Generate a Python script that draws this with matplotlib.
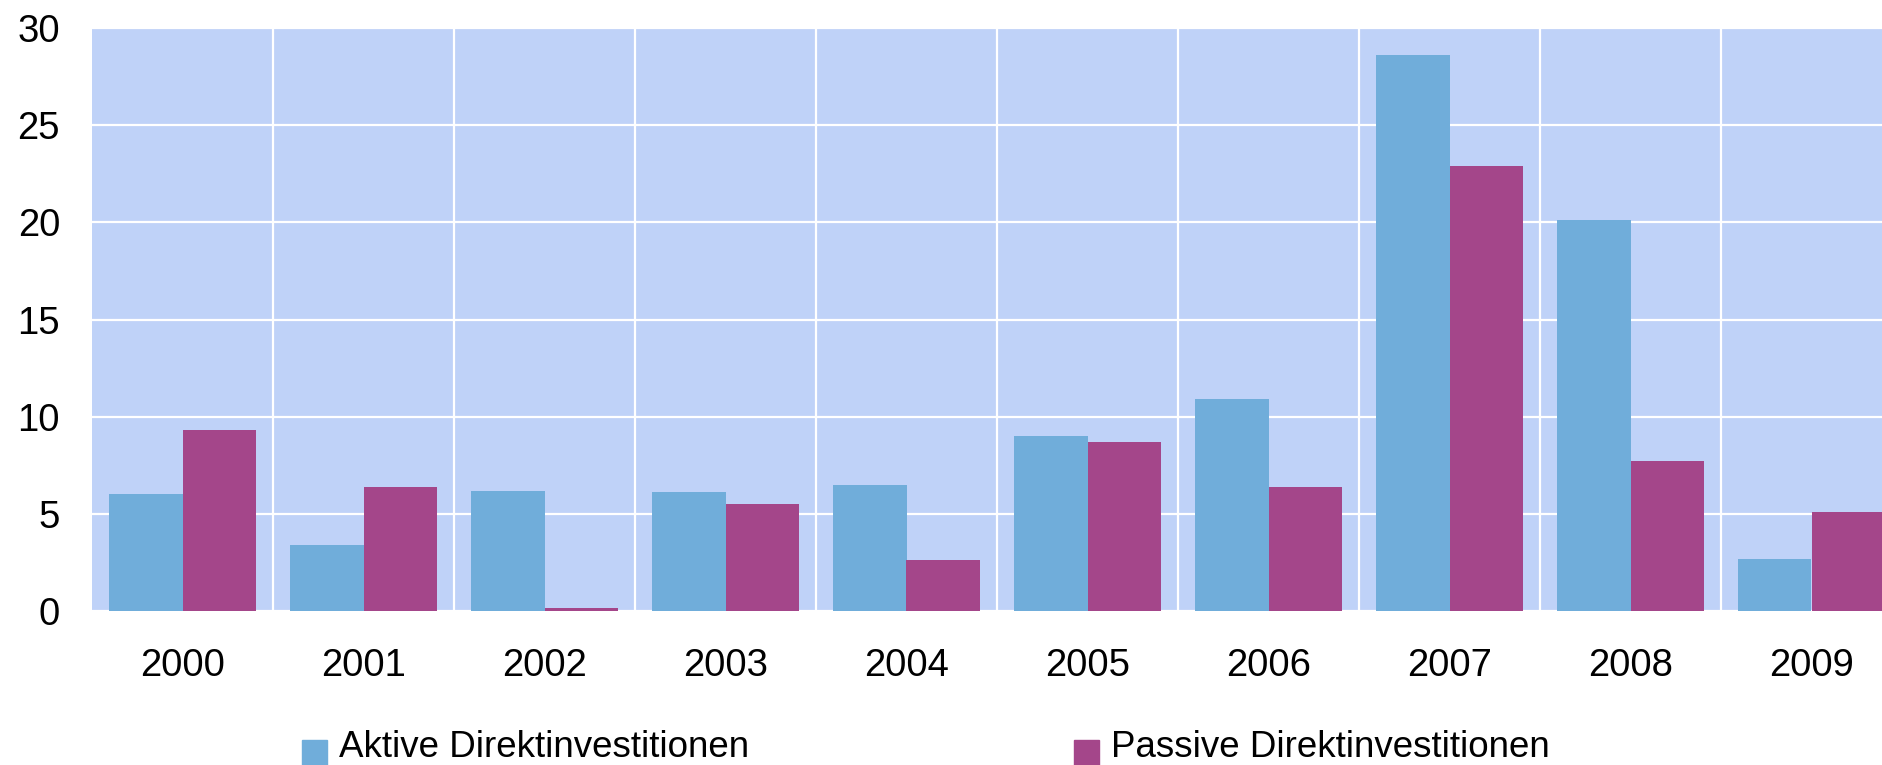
import numpy as np
import matplotlib
matplotlib.use("Agg")
import matplotlib.pyplot as plt
from matplotlib.patches import Rectangle

plt.rcParams['font.family'] = ['Liberation Sans', 'DejaVu Sans']

years = ["2000", "2001", "2002", "2003", "2004", "2005", "2006", "2007", "2008", "2009"]
aktive = [6.0, 3.4, 6.2, 6.1, 6.5, 9.0, 10.9, 28.6, 20.1, 2.7]
passive = [9.3, 6.4, 0.15, 5.5, 2.6, 8.7, 6.4, 22.9, 7.7, 5.1]
labels = ["Aktive Direktinvestitionen", "Passive Direktinvestitionen"]

c_akt = "#70adda"
c_pas = "#a4468a"
c_bg = "#bfd2f8"

W, H = 1883, 765
fig = plt.figure(figsize=(W / 100, H / 100), dpi=100)
# plot area runs past the right edge of the picture, like the original
ax = fig.add_axes([92 / W, 154 / H, 1810 / W, 583 / H])
ax.set_facecolor(c_bg)

x = np.arange(len(years))
bw = 0.405
ax.bar(x - bw / 2, aktive, bw, color=c_akt, zorder=3)
ax.bar(x + bw / 2, passive, bw, color=c_pas, zorder=3)

ax.set_xlim(-0.5, len(years) - 0.5)
ax.set_ylim(0, 30)
ax.set_yticks(np.arange(0, 31, 5))
ax.set_xticks(x)
ax.set_xticklabels(years)
ax.set_xticks(np.arange(0.5, len(years) - 0.5, 1), minor=True)

ax.grid(axis="y", which="major", color="white", lw=1.6, zorder=1)
ax.grid(axis="x", which="minor", color="white", lw=1.6, zorder=1)
ax.grid(axis="x", which="major", visible=False)

for s in ax.spines.values():
    s.set_visible(False)
ax.tick_params(axis="both", which="both", length=0)
ax.tick_params(axis="y", labelsize=27.5, pad=23)
ax.tick_params(axis="x", labelsize=27.5, pad=27)

# legend at the bottom
cols = [c_akt, c_pas]
mx = [302, 1074]
tx = [339, 1111]
for i in range(2):
    fig.patches.append(Rectangle((mx[i] / W, 0), 25 / W, 25 / H,
                                 transform=fig.transFigure, color=cols[i]))
    fig.text(tx[i] / W, 8 / H, labels[i], fontsize=26.5, va="baseline", ha="left")

fig.savefig("out.png", dpi=100)
